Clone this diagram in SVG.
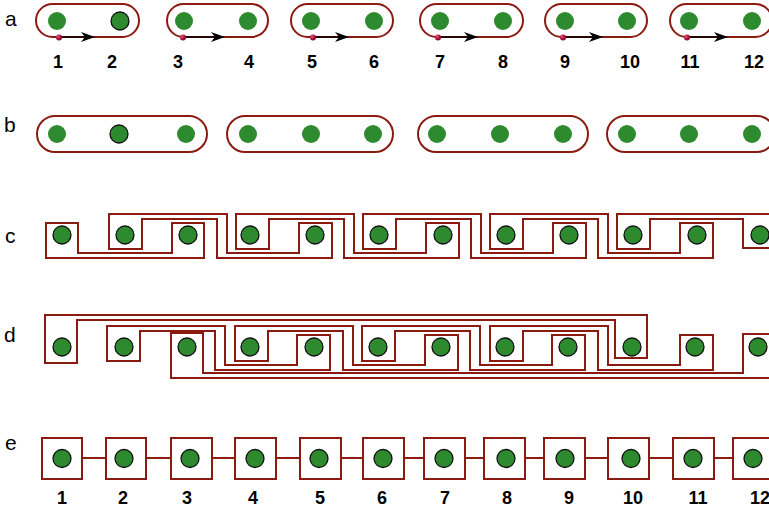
<svg xmlns="http://www.w3.org/2000/svg" width="769" height="513" viewBox="0 0 769 513">
<style>
.w{fill:none;stroke:#8b1a10;stroke-width:2;stroke-linejoin:miter}
.pill{fill:none;stroke:#8b1a10;stroke-width:2}
.g{fill:#2e8a2e}
.gs{fill:#2e8a2e;stroke:#111;stroke-width:1.3}
.lbl{font-family:"Liberation Sans",Arial,sans-serif;font-size:21px;fill:#000}
.num{font-family:"Liberation Sans",Arial,sans-serif;font-size:18px;font-weight:bold;fill:#000;text-anchor:middle}
.ar{stroke:#000;stroke-width:1.5}
.dot{fill:url(#mg)}
</style>
<defs>
<radialGradient id="mg" cx="0.35" cy="0.35" r="0.7"><stop offset="0" stop-color="#e8608a"/><stop offset="0.5" stop-color="#b01445"/><stop offset="1" stop-color="#7a0828"/></radialGradient>
<path id="coil" d="M0,0H118V39H190V9H223V44H108V5H33V35H0Z"/>
</defs>

<g id="labels">
<text class="lbl" x="5" y="26">a</text>
<text class="lbl" x="4" y="132">b</text>
<text class="lbl" x="5" y="243">c</text>
<text class="lbl" x="4" y="342">d</text>
<text class="lbl" x="5" y="450">e</text>
</g>

<g id="row-a">
<g id="a1"><rect class="pill" x="36" y="4" width="103" height="33" rx="16.5"/><circle class="g" cx="57" cy="21" r="9"/><circle class="gs" cx="120" cy="21" r="9"/></g>
<g id="a2"><rect class="pill" x="167" y="4" width="101" height="33" rx="16.5"/><circle class="g" cx="184" cy="21" r="9"/><circle class="g" cx="248" cy="21" r="9"/></g>
<g id="a3"><rect class="pill" x="291" y="4" width="102" height="33" rx="16.5"/><circle class="g" cx="311" cy="21" r="9"/><circle class="g" cx="374" cy="21" r="9"/></g>
<g id="a4"><rect class="pill" x="420" y="4" width="103" height="33" rx="16.5"/><circle class="g" cx="440" cy="21" r="9"/><circle class="g" cx="503" cy="21" r="9"/></g>
<g id="a5"><rect class="pill" x="545" y="4" width="102" height="33" rx="16.5"/><circle class="g" cx="565" cy="21" r="9"/><circle class="g" cx="627" cy="21" r="9"/></g>
<g id="a6"><rect class="pill" x="670" y="4" width="102" height="33" rx="16.5"/><circle class="g" cx="689" cy="21" r="9"/><circle class="g" cx="752" cy="21" r="9"/></g>
</g>

<g id="connectors-a">
<g><line class="ar" x1="60" y1="37" x2="85" y2="37"/><polygon points="95,37 81,32 85,37 81,42"/><circle class="dot" cx="59" cy="37.5" r="3"/></g>
<g><line class="ar" x1="184" y1="37" x2="215" y2="37"/><polygon points="225,37 211,32 215,37 211,42"/><circle class="dot" cx="183" cy="37.5" r="3"/></g>
<g><line class="ar" x1="314" y1="37" x2="339" y2="37"/><polygon points="349,37 335,32 339,37 335,42"/><circle class="dot" cx="313" cy="37.5" r="3"/></g>
<g><line class="ar" x1="439" y1="37" x2="468" y2="37"/><polygon points="478,37 464,32 468,37 464,42"/><circle class="dot" cx="438" cy="37.5" r="3"/></g>
<g><line class="ar" x1="564" y1="37" x2="593" y2="37"/><polygon points="603,37 589,32 593,37 589,42"/><circle class="dot" cx="563" cy="37.5" r="3"/></g>
<g><line class="ar" x1="688" y1="37" x2="718" y2="37"/><polygon points="728,37 714,32 718,37 714,42"/><circle class="dot" cx="687" cy="37.5" r="3"/></g>
</g>

<g id="nums-a">
<text class="num" x="58" y="68">1</text><text class="num" x="112" y="68">2</text>
<text class="num" x="178" y="68">3</text><text class="num" x="249" y="68">4</text>
<text class="num" x="312" y="68">5</text><text class="num" x="374" y="68">6</text>
<text class="num" x="440" y="68">7</text><text class="num" x="503" y="68">8</text>
<text class="num" x="565" y="68">9</text><text class="num" x="630" y="68">10</text>
<text class="num" x="690" y="68">11</text><text class="num" x="754" y="68">12</text>
</g>

<g id="row-b">
<g id="b1"><rect class="pill" x="37" y="116" width="170" height="36" rx="18"/><circle class="g" cx="57" cy="134" r="9"/><circle class="gs" cx="119" cy="134" r="9"/><circle class="g" cx="186" cy="134" r="9"/></g>
<g id="b2"><rect class="pill" x="227" y="116" width="166" height="36" rx="18"/><circle class="g" cx="248" cy="134" r="9"/><circle class="g" cx="311" cy="134" r="9"/><circle class="g" cx="373" cy="134" r="9"/></g>
<g id="b3"><rect class="pill" x="418" y="116" width="170" height="36" rx="18"/><circle class="g" cx="437" cy="134" r="9"/><circle class="g" cx="500" cy="134" r="9"/><circle class="g" cx="563" cy="134" r="9"/></g>
<g id="b4"><rect class="pill" x="607" y="116" width="168" height="36" rx="18"/><circle class="g" cx="627" cy="134" r="9"/><circle class="g" cx="689" cy="134" r="9"/><circle class="g" cx="752" cy="134" r="9"/></g>
</g>

<g id="row-c">
<g id="c-slots">
<circle class="gs" cx="62" cy="235" r="9"/><circle class="gs" cx="125" cy="235" r="9"/><circle class="gs" cx="188" cy="235" r="9"/><circle class="gs" cx="250" cy="235" r="9"/>
<circle class="gs" cx="315" cy="235" r="9"/><circle class="gs" cx="379" cy="235" r="9"/><circle class="gs" cx="443" cy="235" r="9"/><circle class="gs" cx="506" cy="235" r="9"/>
<circle class="gs" cx="569" cy="235" r="9"/><circle class="gs" cx="633" cy="235" r="9"/><circle class="gs" cx="697" cy="235" r="9"/><circle class="gs" cx="760" cy="235" r="9"/>
</g>
<g id="c-coils">
<path class="w" d="M46,223H78V253H172V223H204V258H46Z"/>
<use href="#coil" class="w" x="109" y="214"/>
<use href="#coil" class="w" x="236" y="214"/>
<use href="#coil" class="w" x="363" y="214"/>
<use href="#coil" class="w" x="490" y="214"/>
<path class="w" d="M617,214H780V248H743V219H650V249H617Z"/>
</g>
</g>

<g id="row-d">
<g id="d-slots">
<circle class="gs" cx="62" cy="347" r="9"/><circle class="gs" cx="124" cy="347" r="9"/><circle class="gs" cx="187" cy="347" r="9"/><circle class="gs" cx="250" cy="347" r="9"/>
<circle class="gs" cx="314" cy="347" r="9"/><circle class="gs" cx="378" cy="347" r="9"/><circle class="gs" cx="441" cy="347" r="9"/><circle class="gs" cx="505" cy="347" r="9"/>
<circle class="gs" cx="568" cy="347" r="9"/><circle class="gs" cx="632" cy="347" r="9"/><circle class="gs" cx="695" cy="347" r="9"/><circle class="gs" cx="758" cy="347" r="9"/>
</g>
<g id="d-coils">
<path class="w" d="M45,315H647V358H615V320H77V363H45Z"/>
<path class="w" d="M171,333H203V373H743V334H780V378H171Z"/>
<use href="#coil" class="w" x="107" y="326"/>
<use href="#coil" class="w" x="235" y="326"/>
<use href="#coil" class="w" x="362" y="326"/>
<use href="#coil" class="w" x="490" y="326"/>
</g>
</g>

<g id="row-e">
<g id="e-links">
<path class="w" d="M82,458H106M146,458H171M212,458H235M276,458H300M341,458H363M404,458H424M465,458H484M525,458H544M585,458H608M649,458H673M714,458H733" stroke-width="1.6"/>
</g>
<g id="e1"><rect class="w" x="42" y="438" width="40" height="41"/><circle class="gs" cx="62" cy="458.5" r="9"/></g>
<g id="e2"><rect class="w" x="106" y="438" width="40" height="41"/><circle class="gs" cx="124" cy="458.5" r="9"/></g>
<g id="e3"><rect class="w" x="171" y="438" width="41" height="41"/><circle class="gs" cx="190" cy="458.5" r="9"/></g>
<g id="e4"><rect class="w" x="235" y="438" width="41" height="41"/><circle class="gs" cx="255" cy="458.5" r="9"/></g>
<g id="e5"><rect class="w" x="300" y="438" width="41" height="41"/><circle class="gs" cx="319" cy="458.5" r="9"/></g>
<g id="e6"><rect class="w" x="363" y="438" width="41" height="41"/><circle class="gs" cx="383" cy="458.5" r="9"/></g>
<g id="e7"><rect class="w" x="424" y="438" width="41" height="41"/><circle class="gs" cx="444" cy="458.5" r="9"/></g>
<g id="e8"><rect class="w" x="484" y="438" width="41" height="41"/><circle class="gs" cx="506" cy="458.5" r="9"/></g>
<g id="e9"><rect class="w" x="544" y="438" width="41" height="41"/><circle class="gs" cx="565" cy="458.5" r="9"/></g>
<g id="e10"><rect class="w" x="608" y="438" width="41" height="41"/><circle class="gs" cx="631" cy="458.5" r="9"/></g>
<g id="e11"><rect class="w" x="673" y="438" width="41" height="41"/><circle class="gs" cx="693" cy="458.5" r="9"/></g>
<g id="e12"><rect class="w" x="733" y="438" width="41" height="41"/><circle class="gs" cx="753" cy="458.5" r="9"/></g>
</g>

<g id="nums-e">
<text class="num" x="62" y="504">1</text><text class="num" x="123" y="504">2</text>
<text class="num" x="187" y="504">3</text><text class="num" x="253" y="504">4</text>
<text class="num" x="320" y="504">5</text><text class="num" x="382" y="504">6</text>
<text class="num" x="445" y="504">7</text><text class="num" x="507" y="504">8</text>
<text class="num" x="569" y="504">9</text><text class="num" x="633" y="504">10</text>
<text class="num" x="698" y="504">11</text><text class="num" x="760" y="504">12</text>
</g>
</svg>
